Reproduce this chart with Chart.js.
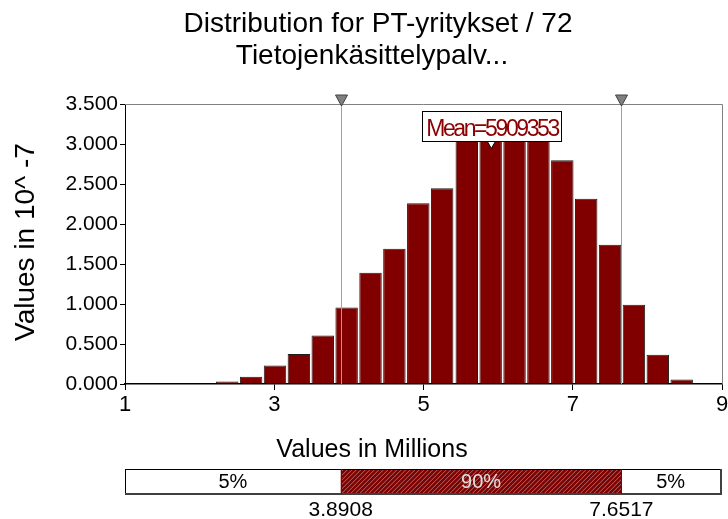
<!DOCTYPE html>
<html>
<head>
<meta charset="utf-8">
<script src="https://cdn.jsdelivr.net/npm/chart.js@4/dist/chart.umd.min.js"></script>
<style>
html,body{margin:0;padding:0;background:#fff;}
#wrap{width:728px;height:519px;position:relative;}
</style>
</head>
<body>
<div id="wrap"><canvas id="c"></canvas></div>
<script>
// ---- data ----
const titleLines = ['Distribution for PT-yritykset / 72', 'Tietojenkäsittelypalv...'];
const yAxisTitle = 'Values in 10^ -7';
const xAxisTitle = 'Values in Millions';
const binCenters = [2.37, 2.69, 3.01, 3.33, 3.65, 3.97, 4.29, 4.61, 4.93, 5.25,
                    5.58, 5.90, 6.22, 6.54, 6.86, 7.18, 7.50, 7.82, 8.14, 8.46];
const density = [0.03, 0.092, 0.23, 0.375, 0.605, 0.955, 1.39, 1.69, 2.26, 2.446,
                 3.10, 3.20, 3.15, 3.10, 2.796, 2.317, 1.74, 0.99, 0.367, 0.055];
const xTickValues = [1, 3, 5, 7, 9];
const xTickLabels = ['1', '3', '5', '7', '9'];
const yTickValues = [0, 0.5, 1, 1.5, 2, 2.5, 3, 3.5];
const yTickLabels = ['0.000', '0.500', '1.000', '1.500', '2.000', '2.500', '3.000', '3.500'];
const percentileValues = [3.8908, 7.6517];
const percentileLabels = ['3.8908', '7.6517'];
const bandLabels = ['5%', '90%', '5%'];
const meanValue = 5.909353;
const meanLabel = 'Mean=5909353';

const FONT = '"Liberation Sans", Arial, sans-serif';

const overlay = {
  id: 'overlay',
  afterDraw(chart) {
    const ctx = chart.ctx;
    const xs = chart.scales.x, ys = chart.scales.y;
    const ca = chart.chartArea;
    ctx.save();
    // frame top/right
    ctx.strokeStyle = '#808080';
    ctx.lineWidth = 1;
    ctx.beginPath();
    ctx.moveTo(ca.left, ca.top + 0.5); ctx.lineTo(ca.right + 0.5, ca.top + 0.5);
    ctx.lineTo(ca.right + 0.5, ca.bottom);
    ctx.stroke();

    // percentile lines + triangles
    percentileValues.forEach(v => {
      const px = Math.round(xs.getPixelForValue(v)) + 0.5;
      ctx.strokeStyle = '#a0a0a0';
      ctx.beginPath(); ctx.moveTo(px, ca.top); ctx.lineTo(px, ca.bottom); ctx.stroke();
      ctx.fillStyle = '#808080';
      ctx.strokeStyle = '#404040';
      ctx.beginPath();
      ctx.moveTo(px - 6, ca.top - 9); ctx.lineTo(px + 6, ca.top - 9); ctx.lineTo(px, ca.top + 2);
      ctx.closePath(); ctx.fill(); ctx.stroke();
    });

    // mean label
    const mx = xs.getPixelForValue(meanValue);
    ctx.font = '23px ' + FONT;
    try { ctx.letterSpacing = '-2.4px'; } catch (e) {}
    const tw = ctx.measureText(meanLabel).width;
    const bx0 = Math.round(mx - 69) + 0.5, by0 = 111.5, bw = 139, bh = 30;
    ctx.fillStyle = '#fff';
    ctx.fillRect(bx0, by0, bw, bh);
    ctx.strokeStyle = '#000';
    ctx.strokeRect(bx0, by0, bw, bh);
    ctx.fillStyle = '#8b0000';
    ctx.textAlign = 'left';
    ctx.textBaseline = 'alphabetic';
    ctx.fillText(meanLabel, bx0 + bw / 2 - tw / 2, by0 + 24);
    try { ctx.letterSpacing = '0px'; } catch (e) {}
    // mean marker
    ctx.fillStyle = '#fff';
    ctx.strokeStyle = '#000';
    ctx.beginPath();
    ctx.moveTo(mx - 4, by0 + bh); ctx.lineTo(mx + 4, by0 + bh); ctx.lineTo(mx, by0 + bh + 7);
    ctx.closePath(); ctx.fill(); ctx.stroke();

    // titles
    ctx.fillStyle = '#000';
    ctx.textAlign = 'center';
    ctx.font = '28px ' + FONT;
    ctx.fillText(titleLines[0], 378, 32);
    ctx.fillText(titleLines[1], 372, 64);

    // y axis title
    ctx.save();
    ctx.translate(34, 242);
    ctx.rotate(-Math.PI / 2);
    ctx.font = '28px ' + FONT;
    ctx.fillText(yAxisTitle, 0, 0);
    ctx.restore();

    // x axis title
    ctx.font = '25px ' + FONT;
    ctx.fillText(xAxisTitle, 372, 457);

    // percentile band
    const L = ca.left, R = ca.right - 2, T = 469, B = 494;
    const p1 = xs.getPixelForValue(percentileValues[0]);
    const p2 = xs.getPixelForValue(percentileValues[1]);
    ctx.fillStyle = '#fff';
    ctx.fillRect(L, T, R - L, B - T);
    ctx.fillStyle = '#800000';
    ctx.fillRect(p1, T, p2 - p1, B - T);
    ctx.save();
    ctx.beginPath(); ctx.rect(p1, T, p2 - p1, B - T); ctx.clip();
    ctx.strokeStyle = 'rgba(190,190,190,0.6)';
    ctx.lineWidth = 1;
    ctx.beginPath();
    for (let s = p1 - 40; s < p2 + 40; s += 4.5) {
      ctx.moveTo(s, B); ctx.lineTo(s + (B - T), T);
    }
    ctx.stroke();
    ctx.restore();
    ctx.strokeStyle = '#000';
    ctx.lineWidth = 1;
    ctx.strokeRect(L + 0.5, T + 0.5, R - L, B - T);
    ctx.strokeStyle = '#404040';
    ctx.lineWidth = 2;
    ctx.beginPath(); ctx.moveTo(L, B); ctx.lineTo(R + 1, B); ctx.lineTo(R + 1, T); ctx.stroke();
    ctx.strokeStyle = '#1a1a80';
    ctx.lineWidth = 1;
    [p1, p2].forEach(p => { ctx.beginPath(); ctx.moveTo(Math.round(p) + 0.5, T); ctx.lineTo(Math.round(p) + 0.5, B); ctx.stroke(); });
    ctx.font = '20px ' + FONT;
    ctx.textBaseline = 'middle';
    ctx.fillStyle = '#000';
    ctx.fillText(bandLabels[0], (L + p1) / 2, (T + B) / 2 + 1);
    ctx.fillText(bandLabels[2], (p2 + R) / 2, (T + B) / 2 + 1);
    ctx.fillStyle = '#e0e0e0';
    ctx.fillText(bandLabels[1], (p1 + p2) / 2, (T + B) / 2 + 1);
    ctx.fillStyle = '#000';
    ctx.font = '21px ' + FONT;
    ctx.textBaseline = 'alphabetic';
    ctx.fillText(percentileLabels[0], p1, 516);
    ctx.fillText(percentileLabels[1], p2, 516);
    ctx.restore();
  }
};

new Chart(document.getElementById('c'), {
  type: 'bar',
  data: {
    datasets: [{
      data: binCenters.map((x, i) => ({ x: x, y: density[i] })),
      backgroundColor: '#800000',
      borderColor: '#1e1e1e',
      borderWidth: 1,
      barPercentage: 0.94,
      categoryPercentage: 1.0
    }]
  },
  options: {
    responsive: true,
    maintainAspectRatio: false,
    animation: false,
    events: [],
    layout: { padding: { left: 0, top: 104, right: 6, bottom: 105 } },
    plugins: { legend: { display: false }, tooltip: { enabled: false }, title: { display: false } },
    scales: {
      x: {
        type: 'linear',
        offset: false,
        min: 1, max: 9,
        afterFit: s => { s.height = 30; s.paddingRight = 0; s.paddingLeft = 0; },
        afterBuildTicks: s => { s.ticks = xTickValues.map(v => ({ value: v })); },
        ticks: {
          autoSkip: false,
          maxRotation: 0,
          padding: 2,
          color: '#000',
          font: { family: FONT, size: 22 },
          callback: (v) => { const i = xTickValues.indexOf(v); return i >= 0 ? xTickLabels[i] : ''; }
        },
        grid: { display: true, drawOnChartArea: false, offset: false, tickLength: 6, color: '#000' },
        border: { display: true, color: '#000', width: 1.5 }
      },
      y: {
        min: 0, max: 3.5,
        afterFit: s => { s.width = 125; s.paddingTop = 0; s.paddingBottom = 0; },
        afterBuildTicks: s => { s.ticks = yTickValues.map(v => ({ value: v })); },
        ticks: {
          autoSkip: false,
          padding: 2,
          color: '#000',
          font: { family: FONT, size: 21 },
          callback: (v) => { const i = yTickValues.indexOf(v); return i >= 0 ? yTickLabels[i] : ''; }
        },
        grid: { display: true, drawOnChartArea: false, tickLength: 5, color: '#000' },
        border: { display: true, color: '#000', width: 1 }
      }
    }
  },
  plugins: [overlay]
});
</script>
</body>
</html>
